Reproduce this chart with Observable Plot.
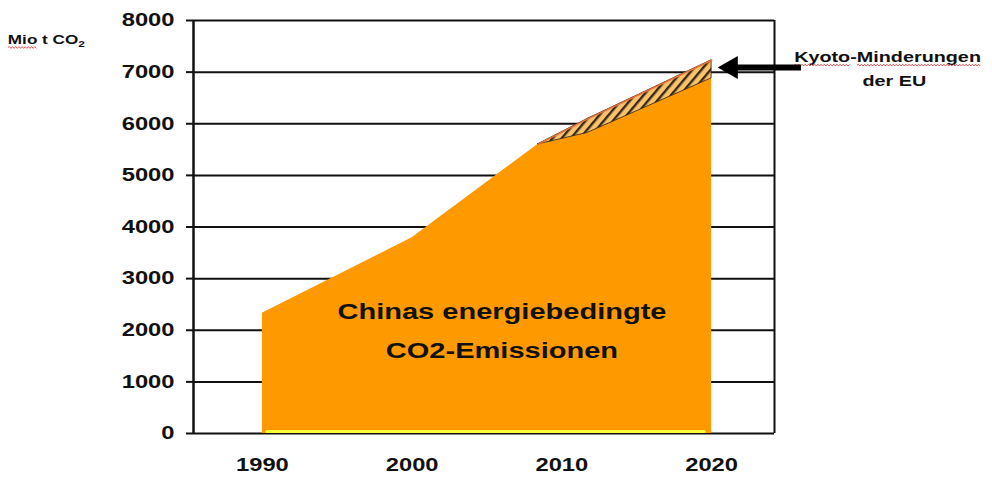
<!DOCTYPE html>
<html>
<head>
<meta charset="utf-8">
<script src="https://cdn.jsdelivr.net/npm/d3@7"></script>
<script src="https://cdn.jsdelivr.net/npm/@observablehq/plot@0.6"></script>
<style>
  html, body { margin: 0; padding: 0; background: #fff; }
  #chart svg { display: block; }
</style>
</head>
<body>
<div id="chart"></div>
<script>
// ---- data ----
const years = [1990, 2000, 2008.4, 2011.7, 2020];
const chinaEmissions = [2330, 3790, 5600, 5820, 6880];

const kyotoYears = [2008.4, 2011.7, 2020];
const kyotoLower = [5600, 5820, 6880];
const kyotoUpper = [5600, 6090, 7230];

const baseYears = [1990.3, 2019.5];
const baseValues = [0, 0];

const yTicks = [0, 1000, 2000, 3000, 4000, 5000, 6000, 7000, 8000];
const xTicks = [1990, 2000, 2010, 2020];
const xDomain = [1985.4, 2024.2];
const yDomain = [0, 8000];

const arrowFromYear = [2025.3];
const arrowToYear = [2020.5];
const arrowValue = [7090];

const unitLabel = "Mio t CO2";
const areaLabel = ["Chinas energiebedingte", "CO2-Emissionen"];
const kyotoLabel = ["Kyoto-Minderungen", "der EU"];

// ---- tables built from the arrays ----
const china = years.map((year, i) => ({year, value: chinaEmissions[i]}));
const kyoto = kyotoYears.map((year, i) => ({year, lo: kyotoLower[i], hi: kyotoUpper[i]}));
const base = baseYears.map((year, i) => ({year, value: baseValues[i]}));
const arrow = arrowFromYear.map((from, i) => ({from, to: arrowToYear[i], value: arrowValue[i]}));

const bold = {fontWeight: "bold", fill: "#111"};

const chart = Plot.plot({
  width: 992,
  height: 477,
  marginLeft: 193,
  marginRight: 218,
  marginTop: 20,
  marginBottom: 44,
  x: {domain: xDomain, label: null},
  y: {domain: yDomain, label: null},
  style: {fontFamily: "'Liberation Sans', Arial, sans-serif", background: "#fff", color: "#111", overflow: "visible"},
  marks: [
    Plot.ruleY(yTicks, {stroke: "#111", strokeWidth: 2}),
    Plot.areaY(china, {x: "year", y: "value", fill: "#ff9900"}),
    Plot.areaY(kyoto, {x: "year", y1: "lo", y2: "hi", fill: "url(#kyoto-hatch)", stroke: "#2a1a08", strokeWidth: 0.8}),
    Plot.lineY(kyoto, {x: "year", y: "hi", stroke: "#e8703a", strokeWidth: 1.6}),
    Plot.lineY(base, {x: "year", y: "value", stroke: "#ffff33", strokeWidth: 3, dy: -2}),
    Plot.ruleX([xDomain[0]], {y1: yDomain[0], y2: yDomain[1], stroke: "#111", strokeWidth: 2.5}),
    Plot.ruleX([xDomain[1]], {y1: yDomain[0], y2: yDomain[1], stroke: "#111", strokeWidth: 2}),
    Plot.axisY({ticks: yTicks, tickSize: 7, tickPadding: 12, fontSize: 18, ...bold, stroke: "#111", strokeWidth: 2, tickFormat: d => String(d), label: null}),
    Plot.axisX({ticks: xTicks, tickSize: 0, tickPadding: 25, fontSize: 18, ...bold, tickFormat: d => String(d), label: null}),
    Plot.text([areaLabel[0]], {x: 2006, y: 2345, text: d => d, fontSize: 22, ...bold}),
    Plot.text([areaLabel[1]], {x: 2006, y: 1608, text: d => d, fontSize: 22, ...bold}),
    Plot.text([kyotoLabel[0]], {x: 2031.75, y: 7287, text: d => d, fontSize: 15, ...bold, className: "kyoto-label"}),
    Plot.text([kyotoLabel[1]], {x: 2032.2, y: 6822, text: d => d, fontSize: 15, ...bold}),
    Plot.text([unitLabel], {x: 1973.0, y: 7616, text: d => d, fontSize: 13, textAnchor: "start", ...bold, className: "unit-label"}),
    Plot.link(arrow, {x1: "from", x2: "to", y1: "value", y2: "value", stroke: "#000", strokeWidth: 6, dx: 10}),
    Plot.dot(arrow, {x: "to", y: "value", symbol: "triangle", r: 8.6, rotate: -90, fill: "#000", dx: 12})
  ]
});

document.getElementById("chart").appendChild(chart);

const svg = d3.select(chart);

// hatch pattern for the Kyoto reduction wedge
const defs = svg.insert("defs", ":first-child");
const pat = defs.append("pattern")
  .attr("id", "kyoto-hatch")
  .attr("patternUnits", "userSpaceOnUse")
  .attr("width", 7).attr("height", 7)
  .attr("patternTransform", "rotate(40)");
pat.append("rect").attr("width", 7).attr("height", 7).attr("fill", "#f8c36c");
pat.append("rect").attr("width", 2.4).attr("height", 7).attr("fill", "#3a2812");

// unit label with subscript
svg.selectAll(".unit-label text").each(function() {
  const t = d3.select(this);
  t.text(null);
  t.append("tspan").text("Mio t CO");
  t.append("tspan").text("2").attr("font-size", 9).attr("dy", 3);
});

// the reference's text is horizontally stretched
const S = 1.32;
svg.selectAll("text").each(function() {
  const bb = this.getBBox();
  const anchor = getComputedStyle(this).textAnchor;
  const px = anchor === "end" ? bb.x + bb.width : anchor === "middle" ? bb.x + bb.width / 2 : bb.x;
  const t = this.getAttribute("transform") || "";
  this.setAttribute("transform", `${t} translate(${px},0) scale(${S},1) translate(${-px},0)`);
});

// red wavy spell-check underlines, as in the reference
function wavy(textEl, from, to) {
  const a = textEl.getStartPositionOfChar(from);
  const b = textEl.getEndPositionOfChar(to);
  const y = a.y + 3;
  let d = `M${a.x},${y}`;
  let up = true;
  for (let x = a.x + 1.2; x <= b.x; x += 1.2) { d += `L${x},${y + (up ? -0.9 : 0.9)}`; up = !up; }
  d3.select(textEl.parentNode).append("path")
    .attr("d", d)
    .attr("fill", "none")
    .attr("stroke", "#d83030")
    .attr("stroke-width", 0.7)
    .attr("transform", textEl.getAttribute("transform"));
}
svg.selectAll(".unit-label text").each(function() { wavy(this, 0, 2); });
svg.selectAll(".kyoto-label text").each(function() { wavy(this, 0, 4); wavy(this, 6, 16); });
</script>
</body>
</html>
